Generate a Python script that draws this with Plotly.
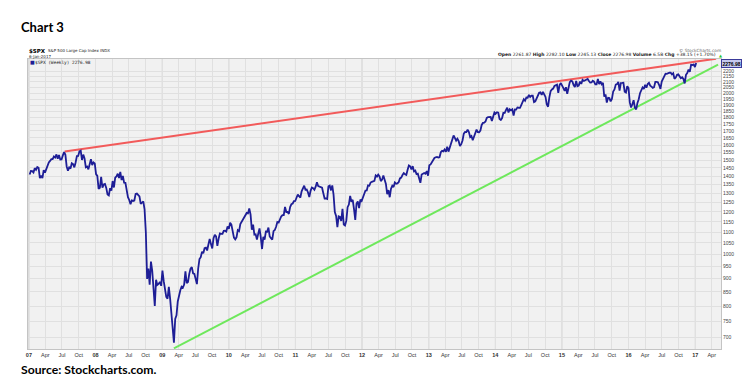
import numpy as np
import pandas as pd
import plotly.graph_objects as go

# Weekly closes of $SPX (week ending Fridays)
close_2007 = [1409.7, 1430.7, 1430.5, 1422.2, 1448.4, 1438.1, 1455.5, 1451.2, 1387.2, 1402.8, 1386.9, 1436.1, 1420.9,
              1443.8, 1452.9, 1484.4, 1494.1, 1505.6, 1505.9, 1522.8, 1515.7, 1536.3, 1507.7, 1532.9, 1502.6, 1503.4,
              1530.4, 1552.5, 1534.1, 1458.9, 1433.1, 1453.6, 1445.9, 1479.4, 1474.0, 1453.6, 1484.3, 1525.8, 1526.8,
              1557.6, 1561.8, 1500.6, 1535.3, 1509.7, 1453.7, 1458.7, 1440.7, 1481.1, 1504.7, 1468.0, 1484.5, 1478.5]
close_2008 = [1411.6, 1401.0, 1325.2, 1330.6, 1395.4, 1331.3, 1350.0, 1353.1, 1330.6, 1293.4, 1288.1, 1329.5, 1315.2,
              1370.4, 1332.8, 1390.3, 1397.8, 1413.9, 1388.3, 1425.4, 1375.9, 1400.4, 1360.7, 1360.0, 1317.9, 1278.4,
              1262.9, 1239.5, 1260.7, 1257.8, 1260.3, 1296.3, 1298.2, 1292.2, 1282.8, 1242.3, 1251.7, 1255.1, 1213.3,
              1099.2, 899.2, 940.6, 876.8, 968.8, 931.0, 873.3, 800.0, 896.2, 876.1, 879.7, 887.9, 872.8]
close_2009 = [931.8, 890.4, 850.1, 832.0, 825.9, 868.6, 826.8, 770.1, 735.1, 683.4, 756.6, 768.5, 815.9,
              842.5, 856.6, 869.6, 866.2, 877.5, 929.2, 882.9, 887.0, 919.1, 940.1, 946.2, 921.2, 918.9,
              896.4, 879.1, 940.4, 979.3, 987.5, 1010.5, 1004.1, 1026.1, 1028.9, 1016.4, 1042.7, 1068.3, 1044.4,
              1025.2, 1071.5, 1087.7, 1079.6, 1036.2, 1069.3, 1093.5, 1091.4, 1091.5, 1106.0, 1106.4, 1102.5, 1126.5, 1115.1]
close_2010 = [1145.0, 1136.0, 1091.8, 1073.9, 1066.2, 1075.5, 1109.2, 1104.5, 1138.7, 1150.0, 1159.9, 1166.6,
              1178.1, 1194.4, 1192.1, 1217.3, 1186.7, 1110.9, 1135.7, 1087.7, 1089.4, 1064.9, 1091.6, 1117.5, 1076.8,
              1022.6, 1078.0, 1064.9, 1102.7, 1101.6, 1121.6, 1079.3, 1071.7, 1064.6, 1104.5, 1109.6, 1125.6, 1148.7,
              1146.2, 1165.2, 1176.2, 1183.1, 1183.3, 1225.9, 1199.2, 1199.7, 1189.4, 1224.7, 1240.4, 1243.9, 1256.8, 1257.6]
close_2011 = [1271.5, 1293.2, 1283.4, 1276.3, 1310.9, 1329.2, 1343.0, 1319.9, 1321.2, 1304.3, 1279.2, 1313.8,
              1332.4, 1328.2, 1319.7, 1337.4, 1363.6, 1340.2, 1337.8, 1333.3, 1331.1, 1300.2, 1271.0, 1271.5, 1268.5,
              1339.7, 1343.8, 1316.1, 1345.0, 1292.3, 1199.4, 1178.8, 1123.5, 1176.8, 1174.0, 1154.2, 1216.0, 1136.4, 1131.4,
              1155.5, 1224.6, 1238.3, 1285.1, 1253.2, 1263.9, 1215.7, 1158.7, 1244.3, 1255.2, 1219.7, 1265.3, 1257.6]
close_2012 = [1277.8, 1289.1, 1315.4, 1316.3, 1344.9, 1342.6, 1361.2, 1365.7, 1369.6, 1370.9, 1404.2, 1397.1, 1408.5,
              1398.1, 1370.3, 1378.5, 1403.4, 1369.1, 1353.4, 1295.2, 1317.8, 1278.0, 1325.7, 1342.8, 1335.0, 1362.2,
              1354.7, 1356.8, 1362.7, 1386.0, 1391.0, 1405.9, 1418.2, 1411.1, 1406.6, 1437.9, 1465.8, 1460.2, 1440.7,
              1460.9, 1428.6, 1433.2, 1411.9, 1414.2, 1379.9, 1359.9, 1409.2, 1416.2, 1418.1, 1413.6, 1430.2, 1402.4]
close_2013 = [1466.5, 1472.1, 1486.0, 1503.0, 1513.2, 1517.9, 1519.8, 1515.6, 1518.2, 1551.2, 1560.7, 1556.9, 1569.2,
              1553.3, 1588.9, 1555.3, 1582.2, 1614.4, 1633.7, 1667.5, 1649.6, 1630.7, 1643.4, 1626.7, 1592.4, 1606.3,
              1631.9, 1680.2, 1692.1, 1691.7, 1709.7, 1691.4, 1655.8, 1663.5, 1633.0, 1655.2, 1688.0, 1709.9, 1691.8,
              1690.5, 1703.2, 1744.5, 1759.8, 1761.6, 1770.6, 1798.2, 1804.8, 1805.8, 1805.1, 1775.3, 1818.3, 1841.4]
close_2014 = [1831.4, 1842.4, 1838.7, 1790.3, 1782.6, 1797.0, 1838.6, 1836.3, 1859.5, 1878.0, 1841.1, 1866.5, 1857.6,
              1865.1, 1815.7, 1864.9, 1863.4, 1881.1, 1878.5, 1877.9, 1900.5, 1923.6, 1949.4, 1936.2, 1962.9, 1961.0,
              1985.4, 1967.6, 1978.2, 1978.3, 1925.2, 1931.6, 1955.1, 1988.4, 2003.4, 2007.7, 1985.5, 2010.4, 1982.9,
              1967.9, 1906.1, 1886.8, 1964.6, 2018.1, 2031.9, 2039.8, 2063.5, 2067.6, 2075.4, 2002.3, 2070.7, 2088.8]
close_2015 = [2058.2, 2044.8, 2019.4, 2051.8, 1995.0, 2055.5, 2097.0, 2110.3, 2104.5, 2071.3, 2053.4, 2108.1, 2061.0,
              2067.0, 2102.1, 2081.2, 2117.7, 2108.3, 2116.1, 2122.7, 2126.1, 2107.4, 2092.8, 2094.1, 2110.0, 2101.5,
              2076.8, 2076.6, 2126.6, 2079.7, 2103.8, 2077.6, 2091.5, 1970.9, 1988.9, 1921.2, 1961.1, 1958.1, 1931.3,
              1951.4, 2014.9, 2033.1, 2075.2, 2079.4, 2099.2, 2023.0, 2089.2, 2090.1, 2091.7, 2012.4, 2005.6, 2061.0, 2043.9]
close_2016 = [1922.0, 1880.3, 1906.9, 1940.2, 1880.1, 1864.8, 1917.8, 1948.1, 2000.0, 2022.2, 2049.6, 2035.9,
              2072.8, 2047.6, 2080.7, 2091.6, 2065.3, 2057.1, 2046.6, 2052.3, 2099.1, 2099.1, 2096.1, 2071.2, 2037.4,
              2103.0, 2129.9, 2161.7, 2175.0, 2173.6, 2182.9, 2184.1, 2183.9, 2169.0, 2180.0, 2127.8, 2139.2, 2164.7, 2168.3,
              2153.7, 2133.0, 2141.2, 2126.4, 2085.2, 2164.5, 2181.9, 2213.4, 2192.0, 2259.5, 2258.1, 2263.8, 2238.8]
close_2017 = [2276.98]

first_week = "2007-01-05"

# Trend lines (anchor dates / values)
resistance_dates = ["2007-07-16", "2017-04-25"]
resistance_values = [1556, 2320]
support_dates = ["2009-03-06", "2017-05-06"]
support_values = [667, 2262]

# Axis ticks
y_ticks = list(range(700, 2201, 50))
year_labels = ["07", "08", "09", "10", "11", "12", "13", "14", "15", "16", "17"]
quarter_labels = ["Apr", "Jul", "Oct"]

closes = (close_2007 + close_2008 + close_2009 + close_2010 + close_2011 + close_2012 +
          close_2013 + close_2014 + close_2015 + close_2016 + close_2017)
dates = pd.date_range(first_week, periods=len(closes), freq="W-FRI")

tick_vals, tick_text = [], []
for i, yl in enumerate(year_labels):
    yr = 2000 + int(yl)
    tick_vals.append(f"{yr}-01-01")
    tick_text.append(f"<b>{yl}</b>")
    for q, ql in zip([4, 7, 10], quarter_labels):
        tick_vals.append(f"{yr}-{q:02d}-01")
        tick_text.append(ql)

fig = go.Figure()

fig.add_trace(go.Scatter(x=resistance_dates, y=resistance_values, mode="lines",
                         line=dict(color="#f25a5a", width=2), showlegend=False, hoverinfo="skip"))
fig.add_trace(go.Scatter(x=support_dates, y=support_values, mode="lines",
                         line=dict(color="#6ee85c", width=2), showlegend=False, hoverinfo="skip"))
fig.add_trace(go.Scatter(x=dates, y=closes, mode="lines",
                         line=dict(color="#1e1e96", width=1.8), showlegend=False))

# darker year gridlines
for yl in year_labels:
    fig.add_shape(type="line", xref="x", yref="paper", x0=f"{2000+int(yl)}-01-01", x1=f"{2000+int(yl)}-01-01",
                  y0=0, y1=1, line=dict(color="#cfcfcf", width=1), layer="below")

fig.update_layout(
    width=750, height=380,
    margin=dict(l=20, r=37, t=51, b=39),
    paper_bgcolor="white", plot_bgcolor="#f1f1f1",
    font=dict(family="Liberation Sans, Arial, sans-serif", color="#333"),
    xaxis=dict(range=["2006-12-27", "2017-05-22"], tickvals=tick_vals, ticktext=tick_text,
               tickfont=dict(size=5.5, color="#333"), showgrid=True, gridcolor="#e0e0e0", gridwidth=1,
               showline=True, linecolor="#c4c4c4", mirror=True, ticks="", zeroline=False, tickangle=0),
    yaxis=dict(type="log", range=[np.log10(665), np.log10(2317)], side="right", tickvals=y_ticks,
               ticktext=[str(v) for v in y_ticks], tickfont=dict(size=5, color="#444"),
               showgrid=True, gridcolor="#e0e0e0", gridwidth=1, showline=True, linecolor="#c4c4c4",
               mirror=True, ticks="", zeroline=False),
)

def px(X):
    return (X - 20) / 693.0

def py(Y):
    return (341 - Y) / 290.0

ann = []
ann.append(dict(text="<b>Chart 3</b>", x=px(12), y=py(19), xanchor="left", yanchor="middle",
                font=dict(family="Lato, sans-serif", size=13, color="#000")))
ann.append(dict(text="<b>Source: Stockcharts.com.</b>", x=px(12), y=py(361), xanchor="left", yanchor="middle",
                font=dict(family="Lato, sans-serif", size=12.2, color="#000")))
ann.append(dict(text="<b>$SPX</b>", x=px(19.5), y=py(42.7), xanchor="left", yanchor="middle",
                font=dict(family="DejaVu Sans, sans-serif", size=5.5, color="#000")))
ann.append(dict(text="S&P 500 Large Cap Index INDX", x=px(39), y=py(42.7), xanchor="left", yanchor="middle",
                font=dict(family="DejaVu Sans, sans-serif", size=4.0, color="#222")))
ann.append(dict(text="6-Jan-2017", x=px(19.5), y=py(48.5), xanchor="left", yanchor="middle",
                font=dict(family="DejaVu Sans, sans-serif", size=4.0, color="#222")))
ann.append(dict(text="■", x=px(21), y=py(54.5), xanchor="left", yanchor="middle",
                font=dict(family="DejaVu Sans, sans-serif", size=5, color="#1e1e96")))
ann.append(dict(text="$SPX (Weekly) %.2f" % closes[-1], x=px(25.5), y=py(54.5), xanchor="left", yanchor="middle",
                font=dict(family="DejaVu Sans Mono, monospace", size=4.4, color="#222")))
ann.append(dict(text="<b>Open</b> 2261.87 <b>High</b> 2282.10 <b>Low</b> 2245.13 <b>Close</b> %.2f "
                     "<b>Volume</b> 6.5B <b>Chg</b> +38.15 (+1.70%%)" % closes[-1],
                x=px(709), y=py(47), xanchor="right", yanchor="middle",
                font=dict(family="DejaVu Sans, sans-serif", size=4.5, color="#222")))
ann.append(dict(text="▲", x=px(710), y=py(47.5), xanchor="left", yanchor="middle",
                font=dict(family="DejaVu Sans, sans-serif", size=4, color="#2ec42e")))
ann.append(dict(text="© StockCharts.com", x=px(714), y=py(42), xanchor="right", yanchor="middle",
                font=dict(family="DejaVu Sans, sans-serif", size=4.3, color="#666")))
for a in ann:
    a.update(xref="paper", yref="paper", showarrow=False, borderpad=0)
    fig.add_annotation(**a)

# last value box on the right axis
fig.add_annotation(text="<b>%.2f</b>" % closes[-1], xref="paper", yref="y", x=1.0, y=np.log10(closes[-1]),
                   xanchor="left", yanchor="middle", showarrow=False,
                   bgcolor="#c5c8ee", bordercolor="#3a3a9a", borderwidth=1, borderpad=0.5,
                   font=dict(family="Liberation Sans, Arial, sans-serif", size=5, color="#000"))

fig.write_html("out.html")
